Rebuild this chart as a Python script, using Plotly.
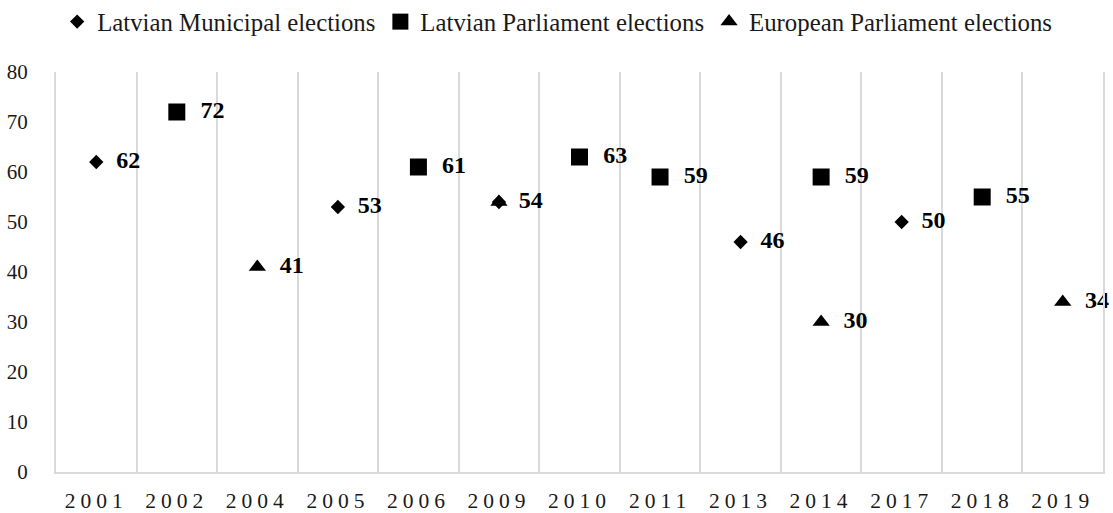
import plotly.graph_objects as go

years = ["2001", "2002", "2004", "2005", "2006", "2009", "2010", "2011",
         "2013", "2014", "2017", "2018", "2019"]

muni_years = ["2001", "2005", "2009", "2013", "2017"]
muni_vals = [62, 53, 54, 46, 50]

parl_years = ["2002", "2006", "2010", "2011", "2014", "2018"]
parl_vals = [72, 61, 63, 59, 59, 55]

euro_years = ["2004", "2009", "2014", "2019"]
euro_vals = [41, 54, 30, 34]

y_ticks = [0, 10, 20, 30, 40, 50, 60, 70, 80]

FONT = "Liberation Serif"
GRID = "#d9d9d9"

fig = go.Figure()

muni_map = dict(zip(muni_years, muni_vals))


def labels(xs, vs, skip_overlap=False):
    out = []
    for x, v in zip(xs, vs):
        if skip_overlap and muni_map.get(x) == v:
            out.append("")
        else:
            out.append("  " + str(v))
    return out


series = [
    ("Latvian Municipal elections", muni_years, muni_vals, "diamond", 11, False),
    ("Latvian Parliament elections", parl_years, parl_vals, "square", 17, False),
    ("European Parliament elections", euro_years, euro_vals, "triangle-up", 15, True),
]

for name, xs, vs, sym, size, skip in series:
    fig.add_trace(go.Scatter(
        x=xs, y=vs, name=name, mode="markers+text",
        marker=dict(symbol=sym, size=size, color="black"),
        text=labels(xs, vs, skip),
        textposition="middle right",
        textfont=dict(family=FONT, size=24, color="black", weight="bold"),
        cliponaxis=False,
    ))

fig.update_layout(
    width=1113, height=513,
    margin=dict(l=56, r=10, t=72, b=41, autoexpand=False),
    paper_bgcolor="white", plot_bgcolor="white",
    font=dict(family=FONT, color="#1a1a1a"),
    showlegend=True,
    legend=dict(orientation="h", xref="container", yref="container",
                x=0.5006, xanchor="center", y=1 - 22 / 513, yanchor="middle",
                font=dict(family=FONT, size=24.8, color="#1a1a1a"),
                itemwidth=30, traceorder="normal"),
)

fig.update_xaxes(
    type="category", categoryorder="array", categoryarray=years,
    tickson="boundaries", showgrid=True, gridcolor=GRID, gridwidth=2,
    showline=True, linecolor=GRID, linewidth=2, mirror=False,
    ticks="", ticklabelstandoff=8, automargin=False,
    tickfont=dict(family=FONT, size=21.5, color="#1a1a1a"),
    range=[-0.5, 12.5],
)

fig.update_yaxes(
    range=[0, 80], tickvals=y_ticks, showgrid=False, zeroline=False,
    showline=True, linecolor=GRID, linewidth=2, mirror=True,
    ticks="", ticklabelstandoff=22, automargin=False,
    tickfont=dict(family=FONT, size=21, color="#1a1a1a"),
)

post = """
document.body.style.margin = '0';
document.body.style.padding = '0';
var gd = document.getElementById('{plot_id}');
function spaceTicks() {
  gd.querySelectorAll('.xtick text').forEach(function (t) {
    t.style.letterSpacing = '5px';
  });
}
spaceTicks();
gd.on('plotly_afterplot', spaceTicks);
"""

fig.write_html("out.html", post_script=post,
               config={"displayModeBar": False, "staticPlot": True})
